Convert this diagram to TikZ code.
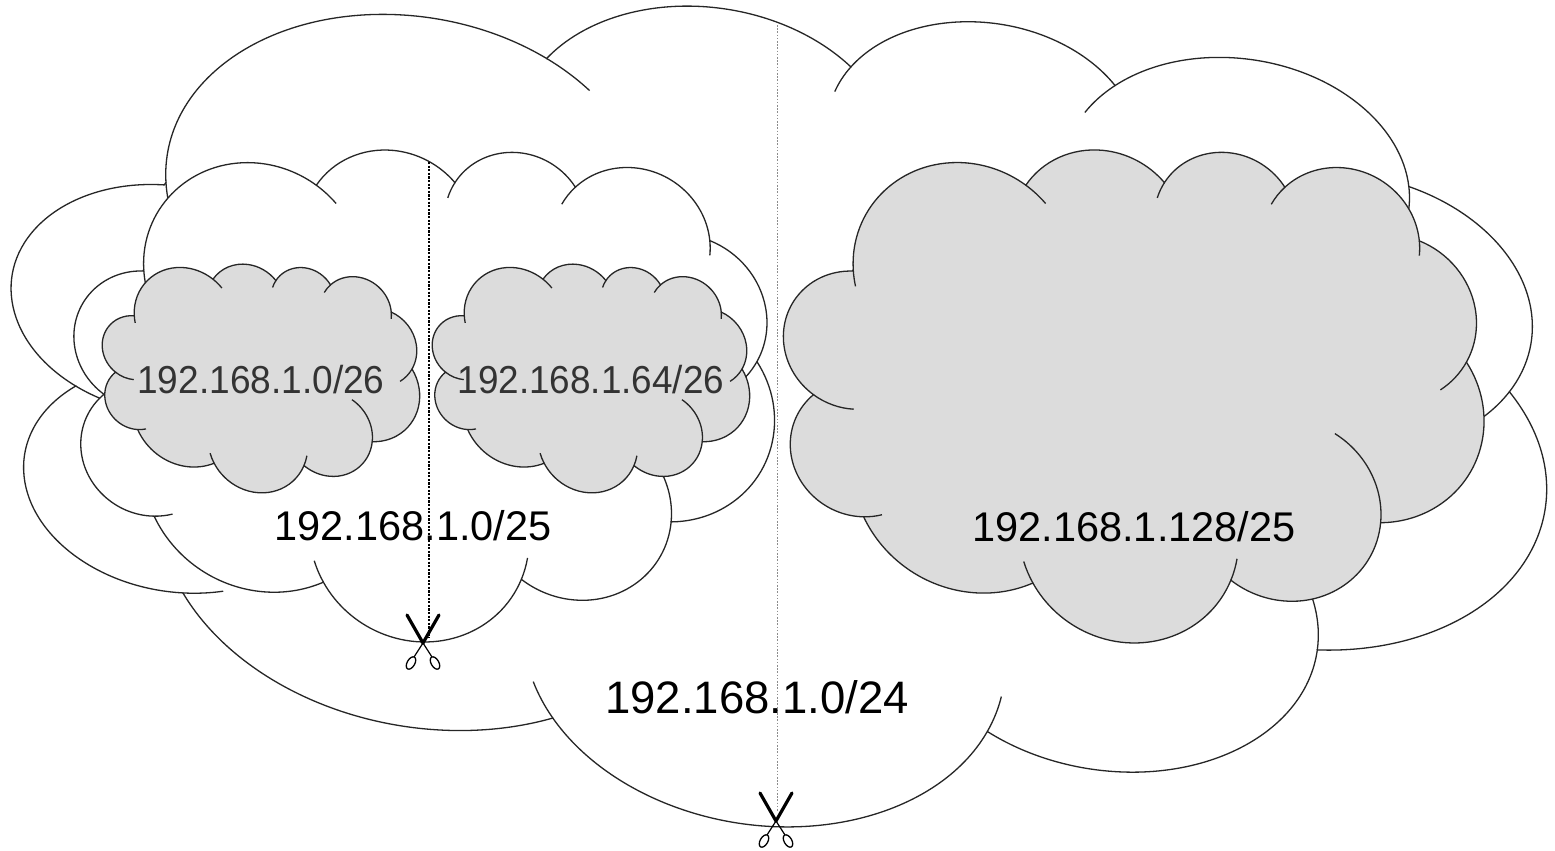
\documentclass[tikz,border=0pt]{standalone}
\usepackage{graphicx}
\usepackage{fontspec}
\setmainfont{Liberation Sans}

\definecolor{cloudgray}{RGB}{220,220,220}

\tikzset{
	cloudline/.style={draw=black!85, line width=0.65pt},
	netlabel/.style={inner sep=0pt, anchor=center},
	cutline/.style={black, line width=0.55pt, dash pattern=on 1.1pt off 0.7pt},
	cutfaint/.style={black!45, line width=0.45pt, dash pattern=on 0.8pt off 0.8pt},
	scissors/.pic={
		\draw[line width=1.6pt, line cap=round] (-16,-28) -- (0,0);
		\draw[line width=1.6pt, line cap=round] (16,-28) -- (0,0);
		\draw[line width=0.6pt] (0,0) -- (9,14) (0,0) -- (-9,14);
		\draw[line width=0.65pt, rotate around={-30:(-12,20)}] (-12,20) ellipse (3.8 and 6.8);
		\draw[line width=0.65pt, rotate around={30:(12,20)}] (12,20) ellipse (3.8 and 6.8);
	},
}

% one puffy cloud in a 432 x 432 box, eleven bumps plus the short inner strokes
\newcommand{\puffcloud}[2]{%
	\filldraw[cloudline, fill=#2] (39,143.7) coordinate (#1j0)
		arc[start angle=-187.745, end angle=-59.64, x radius=67.53, y radius=91.90] coordinate (#1j1)
		arc[start angle=-152.02, end angle=-45.45, x radius=53.33, y radius=72.67] coordinate (#1j2)
		arc[start angle=-153.49, end angle=-37.32, x radius=43.65, y radius=59.45] coordinate (#1j3)
		arc[start angle=-139.71, end angle=-10.21, x radius=48.57, y radius=65.95] coordinate (#1j4)
		arc[start angle=-74.77, end angle=23.21, x radius=53.33, y radius=72.73] coordinate (#1j5)
		arc[start angle=-37.52, end angle=81.86, x radius=67.75, y radius=92.20] coordinate (#1j6)
		arc[start angle=0.46, end angle=121.98, x radius=57.85, y radius=78.67] coordinate (#1j7)
		arc[start angle=16.84, end angle=146.22, x radius=67.52, y radius=92.15] coordinate (#1j8)
		arc[start angle=58.98, end angle=150.17, x radius=77.20, y radius=105.43] coordinate (#1j9)
		arc[start angle=-276.69, end angle=-136.89, x radius=43.60, y radius=59.18] coordinate (#1j10)
		arc[start angle=-239.66, end angle=-95.89, x radius=43.45, y radius=59.45] -- cycle;
	\draw[cloudline] (#1j0) arc[start angle=172.255, end angle=163.19, x radius=67.53, y radius=91.90];
	\draw[cloudline] (#1j1) arc[start angle=-59.64, end angle=-45.74, x radius=67.53, y radius=91.90];
	\draw[cloudline] (#1j2) arc[start angle=-153.49, end angle=-167.73, x radius=43.65, y radius=59.45];
	\draw[cloudline] (#1j3) arc[start angle=-139.71, end angle=-156.29, x radius=48.57, y radius=65.95];
	\draw[cloudline] (#1j4) arc[start angle=-10.21, end angle=0.82, x radius=48.57, y radius=65.95];
	\draw[cloudline] (#1j5) arc[start angle=23.21, end angle=49.64, x radius=53.33, y radius=72.73];
	\draw[cloudline] (#1j6) arc[start angle=0.46, end angle=-64.03, x radius=57.85, y radius=78.67];
	\draw[cloudline] (#1j7) arc[start angle=16.84, end angle=4.74, x radius=67.52, y radius=92.15];
	\draw[cloudline] (#1j8) arc[start angle=146.22, end angle=158.47, x radius=67.52, y radius=92.15];
	\draw[cloudline] (#1j9) arc[start angle=83.31, end angle=68.23, x radius=43.60, y radius=59.18];
	\draw[cloudline] (#1j10) arc[start angle=120.34, end angle=85.55, x radius=43.45, y radius=59.45];
}

\begin{document}
\begin{tikzpicture}[x=0.5pt, y=-0.5pt]
	\fill[white] (0,0) rectangle (1555,851);
	\useasboundingbox (0,0) rectangle (1555,851);

	% whole /24 network
	\begin{scope}[shift={(62,-110)}, x={(1.775pt,-0.2487pt)}, y={(-0.12pt,-0.95pt)}]
		\puffcloud{net}{white}
	\end{scope}

	% lower half /25
	\begin{scope}[shift={(94.5,96)}, x={(0.81pt,-0.105pt)}, y={(-0.0485pt,-0.575pt)}]
		\puffcloud{low}{white}
	\end{scope}

	% the two /26 subnets
	\begin{scope}[shift={(112.8,233.8)}, x={(0.367pt,-0.0635pt)}, y={(-0.025pt,-0.2655pt)}]
		\puffcloud{suba}{cloudgray}
	\end{scope}
	\begin{scope}[shift={(442.8,233.8)}, x={(0.367pt,-0.0635pt)}, y={(-0.025pt,-0.2655pt)}]
		\puffcloud{subb}{cloudgray}
	\end{scope}

	% upper half /25
	\begin{scope}[shift={(804,95.7)}, x={(0.81pt,-0.1055pt)}, y={(-0.0485pt,-0.57625pt)}]
		\puffcloud{high}{cloudgray}
	\end{scope}

	% cut lines
	\coordinate (cutatop) at (429,162);
	\coordinate (cutabot) at (429,638);
	\coordinate (cutbtop) at (777,25);
	\coordinate (cutbbot) at (777,812);
	\draw[cutfaint] (cutbtop) -- (cutbbot);
	\draw[cutline] (cutatop) -- (cutabot);

	\node[netlabel, text=black!80] (suba label) at (261,379.5)
		{\fontsize{19.5}{22}\selectfont\scalebox{0.95}[1]{192.168.1.0/26}};
	\node[netlabel, text=black!80] (subb label) at (591,379.5)
		{\fontsize{19.5}{22}\selectfont\scalebox{0.945}[1]{192.168.1.64/26}};
	\node[netlabel] (low label) at (413,525.5)
		{\fontsize{20.75}{24}\selectfont 192.168.1.0/25};
	\node[netlabel] (high label) at (1134,527)
		{\fontsize{20.75}{24}\selectfont 192.168.1.128/25};
	\node[netlabel] (net label) at (757,697.5)
		{\fontsize{22.75}{26}\selectfont 192.168.1.0/24};

	\pic (snipa) at (423,643) {scissors};
	\pic (snipb) at (776,821) {scissors};
\end{tikzpicture}
\end{document}
